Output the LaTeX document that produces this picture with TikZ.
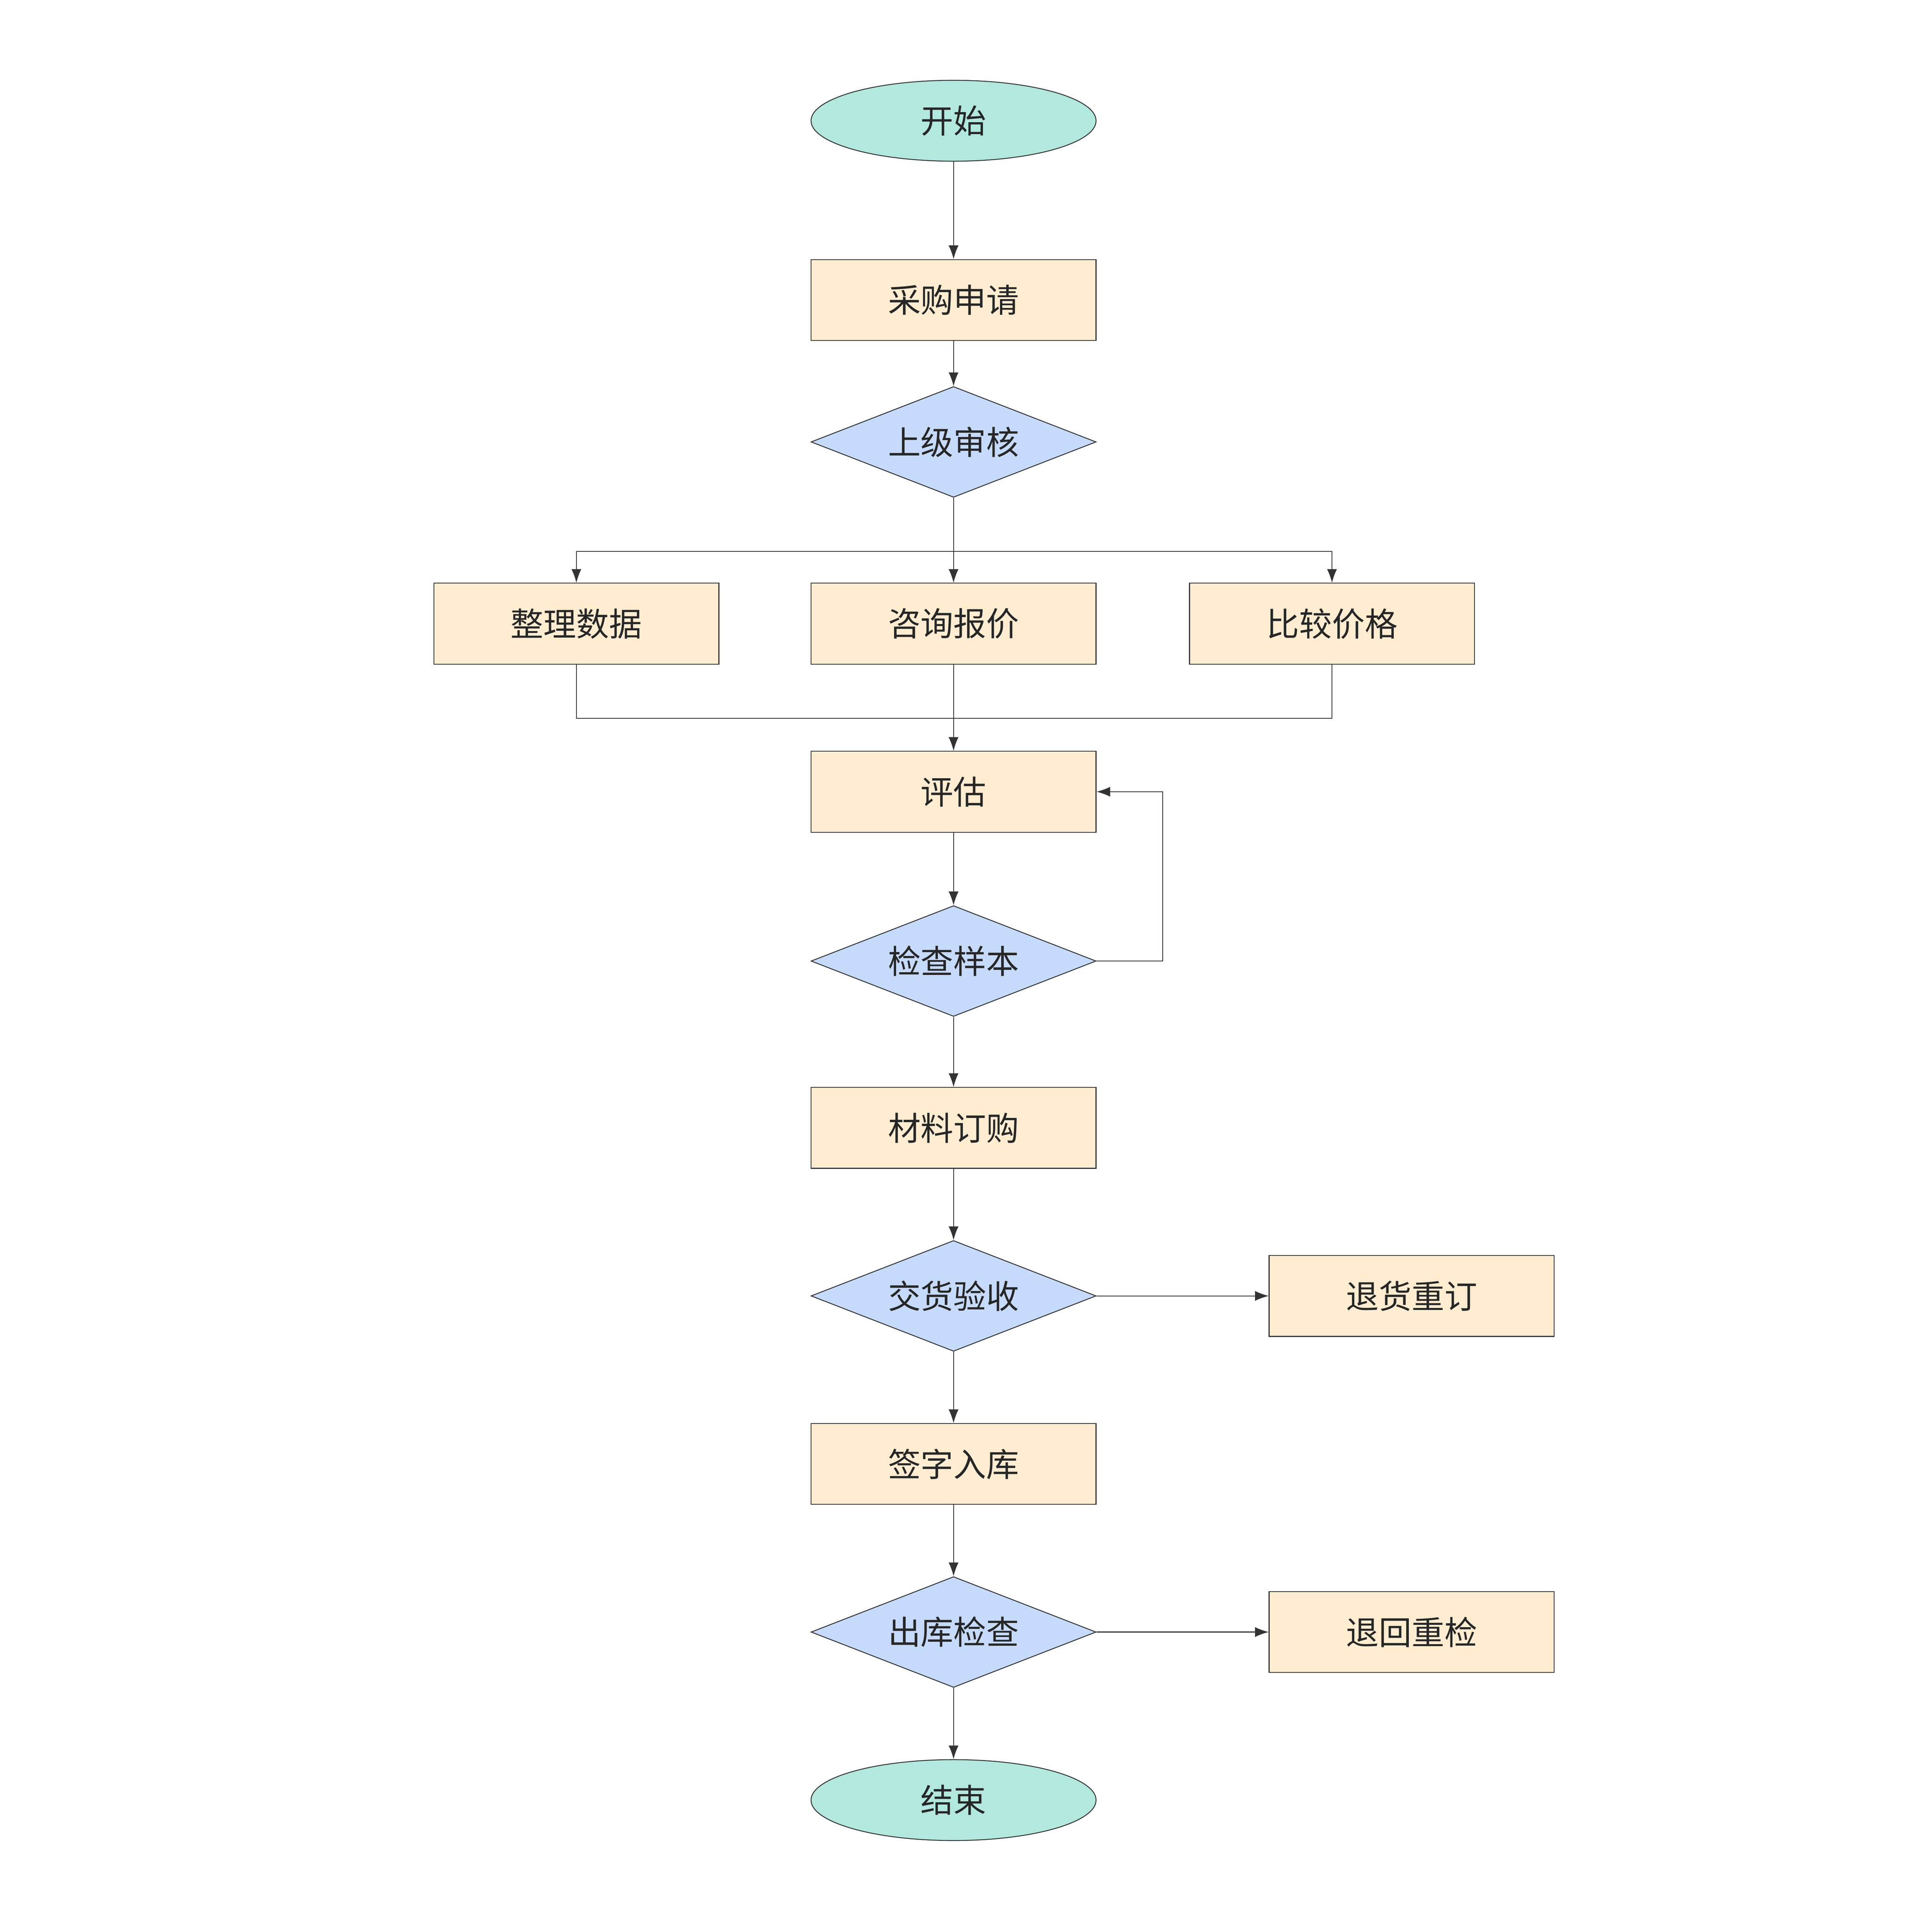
\documentclass[tikz,border=0pt]{standalone}
\usepackage{fontspec}
\setmainfont{Noto Sans CJK SC}
\usetikzlibrary{shapes.geometric,arrows.meta}
\definecolor{boxfill}{HTML}{FFECD1}
\definecolor{decfill}{HTML}{C6DAFC}
\definecolor{endfill}{HTML}{B3E8DF}
\definecolor{edge}{HTML}{333333}
\begin{document}
\begin{tikzpicture}[x=0.02cm,y=-0.02cm,
    every node/.style={font=\fontsize{15}{18}\selectfont, text=black!85},
    task/.style={draw=edge, fill=boxfill, minimum width=4.58cm, minimum height=1.3cm, inner sep=0pt},
    check/.style={draw=edge, fill=decfill, diamond, aspect=2.6, minimum width=4.58cm, minimum height=1.78cm, inner sep=0pt},
    term/.style={draw=edge, fill=endfill, ellipse, minimum width=4.58cm, minimum height=1.3cm, inner sep=0pt},
    link/.style={draw=edge, -{Latex[length=2.2mm,width=1.6mm]}}]
    \useasboundingbox (0,0) rectangle (1552,1530);
    \node[term]  (start)  at (766,97)   {开始};
    \node[task]  (apply)  at (766,241)  {采购申请};
    \node[check] (review) at (766,355)  {上级审核};
    \node[task]  (sort)   at (463,501)  {整理数据};
    \node[task]  (quote)  at (766,501)  {咨询报价};
    \node[task]  (price)  at (1070,501) {比较价格};
    \node[task]  (eval)   at (766,636)  {评估};
    \node[check] (sample) at (766,772)  {检查样本};
    \node[task]  (order)  at (766,906)  {材料订购};
    \node[check] (accept) at (766,1041) {交货验收};
    \node[task]  (reorder) at (1134,1041) {退货重订};
    \node[task]  (store)  at (766,1176) {签字入库};
    \node[check] (out)    at (766,1311) {出库检查};
    \node[task]  (recheck) at (1134,1311) {退回重检};
    \node[term]  (stop)   at (766,1446) {结束};
    \draw[link] (start) -- (apply);
    \draw[link] (apply) -- (review);
    \draw[link] (review) -- (quote);
    \draw[link] (review.south) |- (463,443) -- (sort);
    \draw[link] (review.south) |- (1070,443) -- (price);
    \draw[link] (quote) -- (eval);
    \draw[edge] (sort.south) |- (766,577);
    \draw[edge] (price.south) |- (766,577);
    \draw[link] (eval) -- (sample);
    \draw[link] (sample.east) -- (934,772) |- (eval.east);
    \draw[link] (sample) -- (order);
    \draw[link] (order) -- (accept);
    \draw[link] (accept) -- (reorder);
    \draw[link] (accept) -- (store);
    \draw[link] (store) -- (out);
    \draw[link] (out) -- (recheck);
    \draw[link] (out) -- (stop);
\end{tikzpicture}
\end{document}
